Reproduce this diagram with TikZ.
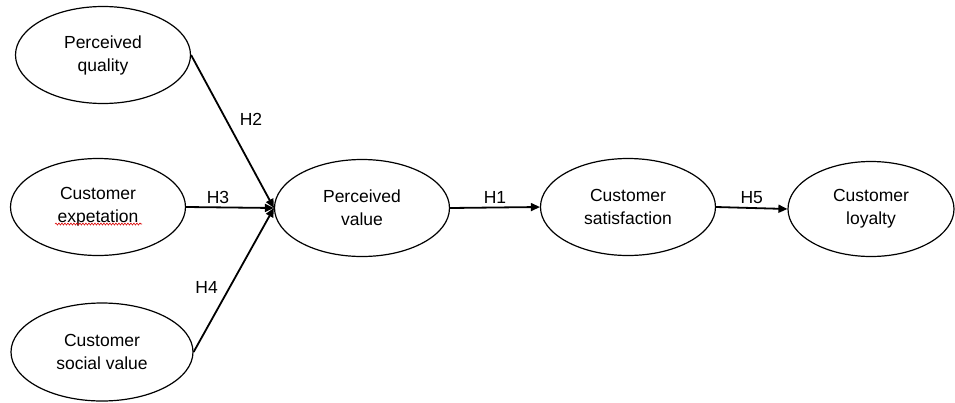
\documentclass[tikz,border=0pt]{standalone}
\usepackage{fontspec}
\setmainfont{Liberation Sans}
\usetikzlibrary{arrows.meta,shapes.geometric,decorations.pathmorphing}

\begin{document}
\begin{tikzpicture}[x=1pt,y=-1pt,
  construct/.style={draw, ellipse, line width=1.2pt, minimum width=175pt, minimum height=97pt,
    inner sep=0pt, align=center, font=\fontsize{17.5}{23}\selectfont},
  path/.style={-{Triangle[length=9pt,width=8pt]}, line width=1.8pt},
  hyp/.style={font=\fontsize{17.5}{20}\selectfont, inner sep=3pt}
]
  \useasboundingbox (0,0) rectangle (955,402);

  \node[construct] (PQ) at (103,55) {Perceived\\quality};
  \node[construct] (CE) at (98,207) {Customer\\expetation};
  \node[construct, minimum width=182pt, minimum height=98pt] (CSV) at (102,352) {Customer\\social value};
  \node[construct] (PV) at (362,208) {Perceived\\value};
  \node[construct] (CS) at (628,207) {Customer\\satisfaction};
  \node[construct, minimum width=166pt, minimum height=95pt] (CL) at (871,209) {Customer\\loyalty};

  % spell-check squiggle
  \draw[red!85!black, line width=0.6pt, decoration={snake, amplitude=1pt, segment length=3pt}, decorate]
    (55,224) -- (142,224);

  \draw[path] (PQ.east) -- node[hyp, pos=0.42, right=10pt] {H2} (PV.west);
  \draw[path] (CE.east) -- node[hyp, above, xshift=-12pt] {H3} (PV.west);
  \draw[path] (CSV.east) -- node[hyp, pos=0.45, left=8pt] {H4} (PV.west);
  \draw[path] (PV.east) -- node[hyp, above] {H1} (CS.west);
  \draw[path] (CS.east) -- node[hyp, above] {H5} (CL.west);
\end{tikzpicture}
\end{document}
